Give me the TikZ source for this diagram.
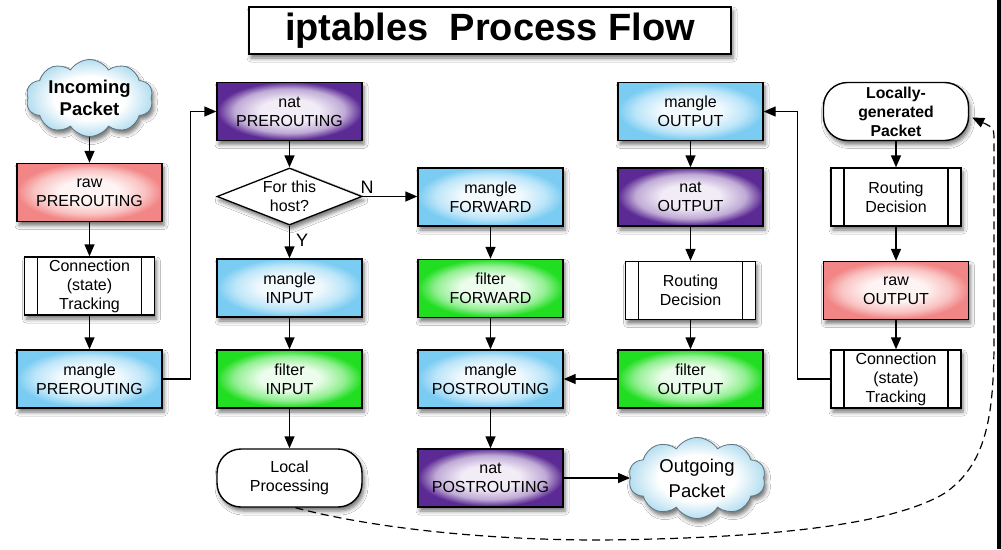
\documentclass[tikz,border=0pt]{standalone}
\usepackage{fontspec}
\setmainfont{Liberation Sans}
\usetikzlibrary{shapes.geometric,shapes.symbols,shadows.blur,arrows.meta}

% fill colours: pale centre, saturated rim
\definecolor{rawin}{HTML}{FFF4F4}
\definecolor{rawout}{HTML}{F28686}
\definecolor{natin}{HTML}{F2ECF7}
\definecolor{natout}{HTML}{5C2A94}
\definecolor{filtin}{HTML}{EDFDED}
\definecolor{filtout}{HTML}{22DE22}
\definecolor{manin}{HTML}{F2FAFE}
\definecolor{manout}{HTML}{7BCCF2}
\colorlet{rawmid}{rawin!55!rawout}
\colorlet{natmid}{natin!66!natout}
\colorlet{filtmid}{filtin!55!filtout}
\colorlet{manmid}{manin!55!manout}
\definecolor{cloudin}{HTML}{FFFFFF}
\definecolor{cloudout}{HTML}{B4DEF0}
\definecolor{cloudline}{HTML}{5E7480}

% radial glows; the path's bounding box edge sits at radius 25bp
\pgfdeclareradialshading{rawglow}{\pgfpoint{0bp}{1bp}}{color(0bp)=(rawin); color(10bp)=(rawin); color(19bp)=(rawmid); color(25bp)=(rawout); color(50bp)=(rawout)}
\pgfdeclareradialshading{natglow}{\pgfpoint{0bp}{1bp}}{color(0bp)=(natin); color(10bp)=(natin); color(19bp)=(natmid); color(25bp)=(natout); color(50bp)=(natout)}
\pgfdeclareradialshading{filtglow}{\pgfpoint{0bp}{1bp}}{color(0bp)=(filtin); color(10bp)=(filtin); color(19bp)=(filtmid); color(25bp)=(filtout); color(50bp)=(filtout)}
\pgfdeclareradialshading{manglow}{\pgfpoint{0bp}{1bp}}{color(0bp)=(manin); color(10bp)=(manin); color(19bp)=(manmid); color(25bp)=(manout); color(50bp)=(manout)}
\pgfdeclareradialshading{cloudglow}{\pgfpoint{0bp}{0bp}}{color(0bp)=(cloudin); color(14bp)=(cloudin); color(25bp)=(cloudout); color(50bp)=(cloudout)}

\newcommand\nodefont{\fontsize{16}{19}\selectfont}

\tikzset{
  x=1pt, y=-1pt,
  softshadow/.style={blur shadow={shadow xshift=2pt, shadow yshift=-4pt,
      shadow blur radius=4pt, shadow opacity=55}},
  box/.style={draw=black, line width=1.4pt, minimum width=145pt,
      minimum height=58pt, inner sep=0pt, align=center, font=\nodefont,
      softshadow},
  rawbox/.style={box, shading=rawglow},
  natbox/.style={box, shading=natglow},
  filtbox/.style={box, shading=filtglow},
  manbox/.style={box, shading=manglow},
  procbox/.style={box, fill=white, minimum width=130pt,
      path picture={
        \draw[line width=1.2pt]
          ([xshift=13pt]path picture bounding box.north west) --
          ([xshift=13pt]path picture bounding box.south west)
          ([xshift=-13pt]path picture bounding box.north east) --
          ([xshift=-13pt]path picture bounding box.south east);}},
  termbox/.style={box, fill=white, rounded corners=24pt},
  decision/.style={diamond, draw=black, fill=white, line width=1.3pt,
      minimum width=145pt, minimum height=57pt, inner sep=0pt, softshadow},
  puff/.style={cloud, cloud puffs=10, cloud puff arc=115, cloud ignores aspect,
      draw=cloudline, line width=0.8pt, shading=cloudglow, inner sep=0pt,
      softshadow},
  flow/.style={-{Triangle[length=12pt,width=10pt]}, line width=1.4pt},
  branch/.style={font=\fontsize{18}{20}\selectfont, inner sep=0pt},
}

\begin{document}
\begin{tikzpicture}
\useasboundingbox (0,0) rectangle (1001,549);
\fill[white] (0,0) rectangle (1001,549);
\fill[black] (997,0) rectangle (1001,549);

% title
\node[draw=black, line width=1.4pt, fill=white, minimum width=482pt,
      minimum height=47pt, inner sep=0pt, softshadow,
      font=\bfseries\fontsize{38}{40}\selectfont] (title) at (490,30.5)
      {iptables\ \ Process Flow};

% column 1: incoming path
\node[puff, minimum width=127pt, minimum height=77pt] (inc) at (89.5,98) {};
\node[font=\bfseries\fontsize{18.5}{22}\selectfont, align=center] (inctext)
      at (inc.center) {Incoming\\Packet};
\node[rawbox]  (rawpre) at (89.5,192.5) {raw\\PREROUTING};
\node[procbox] (ct1)    at (89.5,286)   {Connection\\(state)\\Tracking};
\node[manbox]  (mpre)   at (89.5,379)   {mangle\\PREROUTING};

% column 2: nat, decision, input
\node[natbox]  (npre)   at (289.5,111.5) {nat\\PREROUTING};
\node[decision] (dec)   at (289.5,196.5) {};
\node[font=\nodefont, align=center, inner sep=0pt] (dectext) at (dec.center)
      {For this\\host?};
\node[manbox]  (minput) at (289.5,288)   {mangle\\INPUT};
\node[filtbox] (finput) at (289.5,379)   {filter\\INPUT};
\node[termbox] (lp)     at (289.5,478)   {Local\\Processing};

% column 3: forward and postrouting
\node[manbox]  (mfwd)   at (490.5,197)   {mangle\\FORWARD};
\node[filtbox] (ffwd)   at (490.5,288.5) {filter\\FORWARD};
\node[manbox]  (mpost)  at (490.5,379)   {mangle\\POSTROUTING};
\node[natbox]  (npost)  at (490.5,478)   {nat\\POSTROUTING};
\node[puff, minimum width=137pt, minimum height=81pt] (outp) at (697,478) {};
\node[font=\fontsize{18.5}{25}\selectfont, align=center] (outtext)
      at (outp.center) {Outgoing\\Packet};

% column 4: output chain
\node[manbox]  (mout)   at (690.5,111.5) {mangle\\OUTPUT};
\node[natbox]  (nout)   at (690.5,197)   {nat\\OUTPUT};
\node[procbox] (rd1)    at (690.5,290.5) {Routing\\Decision};
\node[filtbox] (fout)   at (690.5,379)   {filter\\OUTPUT};

% column 5: locally generated packets
\node[termbox, font=\bfseries\fontsize{15.8}{19}\selectfont] (lg)
      at (896,111.5) {Locally-\\generated\\Packet};
\node[procbox] (rd2)    at (896,197)     {Routing\\Decision};
\node[rawbox]  (rawout) at (896,290.5)   {raw\\OUTPUT};
\node[procbox] (ct2)    at (896,379)     {Connection\\(state)\\Tracking};

% branch labels
\node[branch] (lblN) at (367,187) {N};
\node[branch] (lblY) at (302,240) {Y};

% connectors
\draw[flow] (inc.south) -- (rawpre.north);
\draw[flow] (rawpre) -- (ct1);
\draw[flow] (ct1) -- (mpre);
\draw[flow] (mpre.east) -- ++(28,0) |- (npre.west);
\draw[flow] (npre) -- (dec);
\draw[flow] (dec.south) -- (minput.north);
\draw[flow] (dec.east) -- (dec.east -| mfwd.west);
\draw[flow] (minput) -- (finput);
\draw[flow] (finput) -- (lp);
\draw[flow] (mfwd) -- (ffwd);
\draw[flow] (ffwd) -- (mpost);
\draw[flow] (mpost) -- (npost);
\draw[flow] (npost.east) -- (npost.east -| outp.west);
\draw[flow] (fout.west) -- (fout.west -| mpost.east);
\draw[flow] (lg) -- (rd2);
\draw[flow] (rd2) -- (rawout);
\draw[flow] (rawout) -- (ct2);
\draw[flow] (ct2.west) -- ++(-33,0) |- (mout.east);
\draw[flow] (mout) -- (nout);
\draw[flow] (nout) -- (rd1);
\draw[flow] (rd1) -- (fout);

% locally processed packets re-enter as locally generated ones
\draw[flow, line width=1.2pt, dash pattern=on 8pt off 5pt]
  ([xshift=6pt]lp.south) .. controls (360,525) and (470,540) .. (600,540)
  .. controls (800,538) and (900,520) .. (945,493)
  .. controls (985,465) and (994,420) .. (994,340)
  -- (994,142) .. controls (994,128) .. ([shift={(3,6)}]lg.east);
\end{tikzpicture}
\end{document}
